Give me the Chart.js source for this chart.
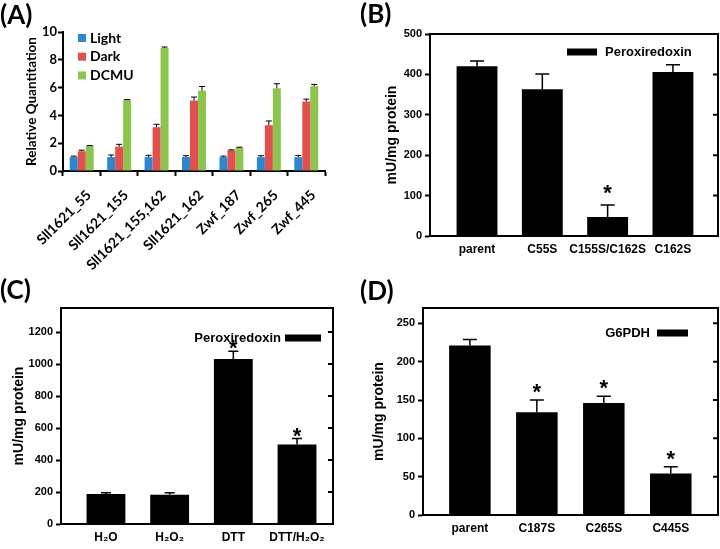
<!DOCTYPE html>
<html lang="en">
<head>
  <meta charset="UTF-8" />
  <title>Peroxiredoxin / G6PDH panels</title>
  <script src="https://cdn.jsdelivr.net/npm/chart.js"></script>
  <style>
    * { box-sizing: border-box; margin: 0; padding: 0; }
    body { background: white; width: 720px; height: 549px; overflow: hidden; }
    #wrap { position: relative; width: 720px; height: 549px; }
    canvas { position: absolute; }
    .tag {
      position: absolute;
      font-family: Lato, 'Liberation Sans', sans-serif;
      font-weight: bold;
      font-size: 26px;
      line-height: 26px;
      color: #000;
    }
  </style>
</head>
<body>
  <div id="wrap">
    <canvas id="chartA" width="360" height="275" style="left:0;top:0"></canvas>
    <canvas id="chartB" width="360" height="275" style="left:360px;top:0"></canvas>
    <canvas id="chartC" width="360" height="274" style="left:0;top:275px"></canvas>
    <canvas id="chartD" width="360" height="274" style="left:360px;top:275px"></canvas>
    <div class="tag" style="left:0;top:1px">(A)</div>
    <div class="tag" style="left:360px;top:0">(B)</div>
    <div class="tag" style="left:0;top:276px">(C)</div>
    <div class="tag" style="left:360px;top:277px">(D)</div>
  </div>

  <script>
    // ---- data ----
    // (A) relative quantitation
    const catsA = ['Sll1621_55', 'Sll1621_155', 'Sll1621_155,162', 'Sll1621_162', 'Zwf_187', 'Zwf_265', 'Zwf_445'];
    const lightA = [1.0, 1.0, 1.0, 1.0, 1.0, 1.0, 1.0];
    const lightErrA = [1.07, 1.15, 1.13, 1.1, 1.07, 1.1, 1.12];
    const darkA = [1.42, 1.75, 3.15, 5.07, 1.49, 3.3, 5.0];
    const darkErrA = [1.5, 1.92, 3.36, 5.32, 1.52, 3.6, 5.17];
    const dcmuA = [1.8, 5.12, 8.85, 5.78, 1.68, 5.95, 6.1];
    const dcmuErrA = [1.83, 5.14, 8.92, 6.08, 1.71, 6.28, 6.23];
    const ticksA = [0, 2, 4, 6, 8, 10];

    // (B) peroxiredoxin mutants
    const catsB = ['parent', 'C55S', 'C155S/C162S', 'C162S'];
    const valsB = [420, 363, 47, 406];
    const errB = [433, 401, 77, 424];
    const starsB = [false, false, true, false];

    // (C) peroxiredoxin treatments
    const catsC = ['H\u2082O', 'H\u2082O\u2082', 'DTT', 'DTT/H\u2082O\u2082'];
    const valsC = [188, 183, 1032, 497];
    const errC = [196, 195, 1080, 534];
    const starsC = [false, false, true, true];

    // (D) G6PDH mutants
    const catsD = ['parent', 'C187S', 'C265S', 'C445S'];
    const valsD = [221, 134, 146, 54];
    const errD = [229, 150, 155, 63];
    const starsD = [false, true, true, true];

    Chart.defaults.font.family = "'Liberation Sans', Arial, sans-serif";
    Chart.defaults.color = '#000';
    Chart.defaults.animation = false;

    // error bars, asterisks, frame box and small legends
    const marks = {
      id: 'marks',
      afterDatasetsDraw(chart, args, opts) {
        const ctx = chart.ctx;
        const y = chart.scales.y;
        const a = chart.chartArea;
        ctx.save();
        ctx.strokeStyle = '#000';
        ctx.fillStyle = '#000';
        chart.data.datasets.forEach((ds, i) => {
          if (!ds.errTop) return;
          chart.getDatasetMeta(i).data.forEach((bar, j) => {
            const top = y.getPixelForValue(ds.errTop[j]);
            ctx.lineWidth = opts.errWidth;
            ctx.beginPath();
            ctx.moveTo(bar.x, bar.y);
            ctx.lineTo(bar.x, top);
            ctx.moveTo(bar.x - opts.cap / 2, top);
            ctx.lineTo(bar.x + opts.cap / 2, top);
            ctx.stroke();
            if (ds.stars && ds.stars[j]) {
              ctx.font = "bold 22px 'Liberation Sans', Arial";
              ctx.textAlign = 'center';
              ctx.textBaseline = 'alphabetic';
              ctx.fillText('*', bar.x, top - opts.starGap + 12);
            }
          });
        });
        if (opts.frame) {
          ctx.lineWidth = 2;
          ctx.strokeRect(a.left, a.top, a.right - a.left, a.bottom - a.top);
          ctx.beginPath();
          y.ticks.forEach(t => {
            const py = y.getPixelForValue(t.value);
            ctx.moveTo(a.right - 5, py);
            ctx.lineTo(a.right, py);
          });
          ctx.stroke();
        }
        const lg = opts.legend;
        if (lg) {
          ctx.font = lg.font;
          ctx.textBaseline = 'middle';
          chart.data.datasets.forEach((ds, i) => {
            const cy = lg.y + i * lg.row;
            ctx.fillStyle = ds.backgroundColor;
            if (lg.boxFirst) {
              ctx.fillRect(lg.x, cy - lg.boxH / 2, lg.boxW, lg.boxH);
              ctx.fillStyle = '#000';
              ctx.textAlign = 'left';
              ctx.fillText(ds.label, lg.x + lg.boxW + lg.gap, cy);
            } else {
              ctx.fillRect(lg.x - lg.boxW, cy - lg.boxH / 2, lg.boxW, lg.boxH);
              ctx.fillStyle = '#000';
              ctx.textAlign = 'right';
              ctx.fillText(ds.label, lg.x - lg.boxW - lg.gap, cy);
            }
          });
        }
        ctx.restore();
      }
    };

    // ---- (A) ----
    const latoBold = size => ({ family: 'Lato', weight: 'bold', size: size });
    new Chart(document.getElementById('chartA'), {
      type: 'bar',
      data: {
        labels: catsA,
        datasets: [
          { label: 'Light', data: lightA, errTop: lightErrA, backgroundColor: '#2e86cf' },
          { label: 'Dark', data: darkA, errTop: darkErrA, backgroundColor: '#e24f4c' },
          { label: 'DCMU', data: dcmuA, errTop: dcmuErrA, backgroundColor: '#8dc44e' }
        ]
      },
      options: {
        responsive: false,
        categoryPercentage: 0.64,
        barPercentage: 1,
        layout: { padding: { left: 20, top: 32, right: 35, bottom: 0 } },
        plugins: {
          legend: { display: false },
          tooltip: { enabled: false },
          marks: {
            errWidth: 1, cap: 6, starGap: 0,
            legend: { x: 78, y: 38, row: 18.7, boxW: 8, boxH: 8, gap: 4, boxFirst: true, font: 'bold 14px Lato' }
          }
        },
        scales: {
          x: {
            grid: { offset: true, drawOnChartArea: false, tickLength: 5, tickWidth: 2, tickColor: '#000' },
            border: { color: '#000', width: 2 },
            ticks: { font: latoBold(14), minRotation: 45, maxRotation: 45, padding: 11, labelOffset: 7, autoSkip: false },
            afterFit: s => { s.height = 104; }
          },
          y: {
            min: 0, max: 10,
            afterBuildTicks: s => { s.ticks = ticksA.map(v => ({ value: v })); },
            grid: { drawOnChartArea: false, tickLength: 5, tickWidth: 2, tickColor: '#000' },
            border: { color: '#000', width: 2 },
            ticks: { font: latoBold(13), padding: 1 },
            title: { display: true, text: 'Relative Quantitation', font: latoBold(13.5) },
            afterFit: s => { s.width = 43; }
          }
        }
      },
      plugins: [marks]
    });

    // ---- (B), (C), (D): one black series in a framed box ----
    function framedBars(id, cats, vals, errs, stars, label, cfg) {
      const arial = (size) => ({ weight: 'bold', size: size });
      return new Chart(document.getElementById(id), {
        type: 'bar',
        data: {
          datasets: [{
            label: label,
            data: vals.map((v, i) => ({ x: i, y: v })),
            errTop: errs,
            stars: stars,
            backgroundColor: '#000'
          }]
        },
        options: {
          responsive: false,
          categoryPercentage: 1,
          barPercentage: cfg.barPct,
          layout: { padding: cfg.pad },
          plugins: {
            legend: { display: false },
            tooltip: { enabled: false },
            marks: { errWidth: 1.5, cap: cfg.cap, starGap: cfg.starGap, frame: true, legend: cfg.legend }
          },
          scales: {
            x: {
              type: 'linear', offset: false,
              min: cfg.xMin, max: cfg.xMax,
              afterBuildTicks: s => { s.ticks = cats.map((_, i) => ({ value: i })); },
              grid: { display: false, drawTicks: false, offset: false },
              border: { color: '#000', width: 2 },
              ticks: { font: arial(cfg.xFont), padding: cfg.xPad, maxRotation: 0, autoSkip: false, callback: v => cats[v] },
              afterFit: s => { s.height = cfg.xHeight; }
            },
            y: {
              min: 0, max: cfg.yMax,
              ticks: { stepSize: cfg.yStep, includeBounds: false, font: arial(11), padding: 3, callback: v => String(v) },
              grid: { drawOnChartArea: false, tickLength: 5, tickWidth: 2, tickColor: '#000' },
              border: { color: '#000', width: 2 },
              title: { display: true, text: 'mU/mg protein', font: arial(14) },
              afterFit: s => { s.width = cfg.yWidth; }
            }
          }
        },
        plugins: [marks]
      });
    }

    framedBars('chartB', catsB, valsB, errB, starsB, 'Peroxiredoxin', {
      pad: { left: 20, top: 34, right: 2, bottom: 0 },
      yWidth: 50, xHeight: 39, xMin: -0.72, xMax: 3.69, barPct: 0.626,
      yMax: 500, yStep: 100, xFont: 12, xPad: 6, cap: 14, starGap: 17,
      legend: { x: 207, y: 52, row: 0, boxW: 30, boxH: 7, gap: 8, boxFirst: true, font: "bold 13px 'Liberation Sans'" }
    });

    framedBars('chartC', catsC, valsC, errC, starsC, 'Peroxiredoxin', {
      pad: { left: 7, top: 33, right: 27, bottom: 0 },
      yWidth: 54, xHeight: 25, xMin: -0.706, xMax: 3.565, barPct: 0.61,
      yMax: 1350, yStep: 200, xFont: 12, xPad: 6, cap: 10, starGap: 8,
      legend: { x: 321, y: 63, row: 0, boxW: 36, boxH: 7, gap: 4, boxFirst: false, font: "bold 13px 'Liberation Sans'" }
    });

    framedBars('chartD', catsD, valsD, errD, starsD, 'G6PDH', {
      pad: { left: 7, top: 33, right: 2, bottom: 0 },
      yWidth: 56, xHeight: 34, xMin: -0.70, xMax: 3.705, barPct: 0.62,
      yMax: 270, yStep: 50, xFont: 12, xPad: 6, cap: 14, starGap: 13,
      legend: { x: 328, y: 58, row: 0, boxW: 31, boxH: 7, gap: 7, boxFirst: false, font: "bold 13px 'Liberation Sans'" }
    });
  </script>
</body>
</html>
